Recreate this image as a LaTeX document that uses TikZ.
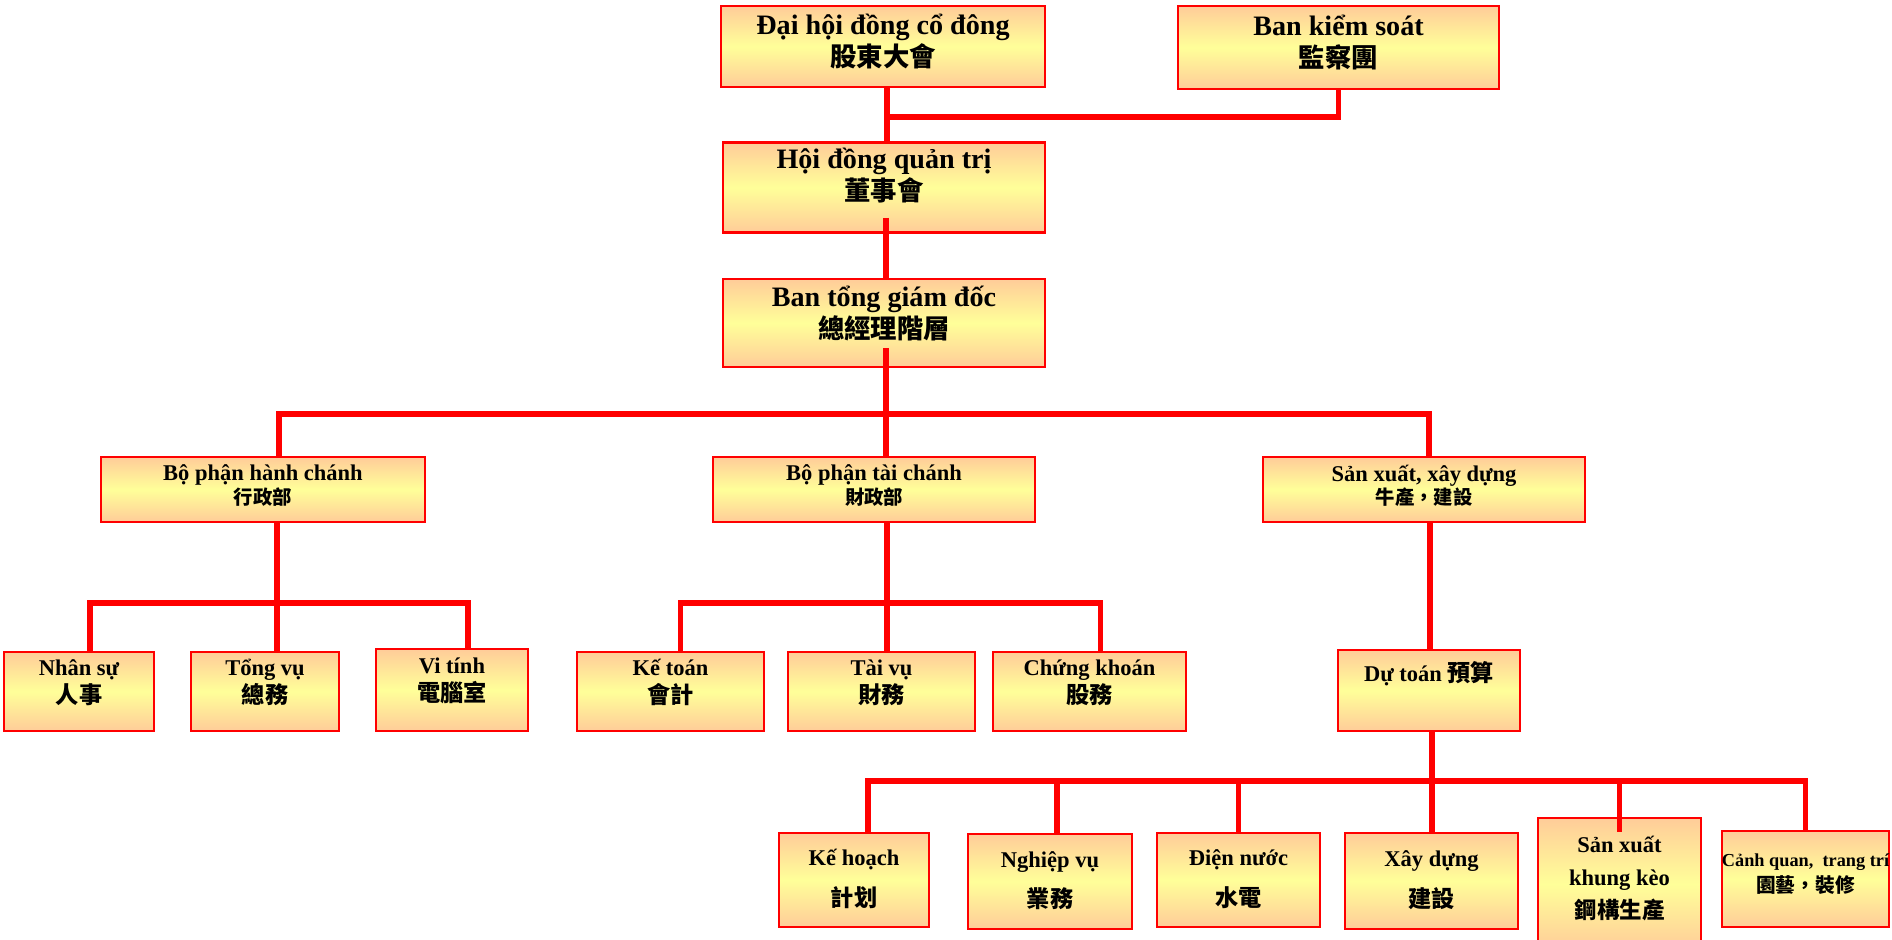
\documentclass[tikz,border=0pt]{standalone}
\usepackage{fontspec}
\setmainfont{Liberation Serif}
\newfontfamily\cjk{Noto Sans CJK TC}
\usetikzlibrary{calc}
\definecolor{boxedge}{HTML}{FFCC99}
\definecolor{boxmid}{HTML}{FFFF99}
\newcommand{\zh}[2]{{\cjk\fontsize{#1}{#1}\selectfont #2}}
\newcommand{\boxtext}[2][0pt]{\raisebox{#1}[0pt][0pt]{\begin{tabular}{@{}c@{}}#2\end{tabular}}}
\tikzset{
  orgbox/.style={draw=red, line width=0.7pt, rectangle, inner sep=0pt, top color=boxedge, bottom color=boxedge, middle color=boxmid},
  topbox/.style={orgbox, font=\bfseries\fontsize{8pt}{9.1pt}\selectfont},
  deptbox/.style={orgbox, minimum height=0.65cm, font=\bfseries\fontsize{6.4pt}{6.1pt}\selectfont},
  unitbox/.style={orgbox, minimum height=0.79cm, font=\bfseries\fontsize{6.4pt}{7.4pt}\selectfont},
  teambox/.style={orgbox, minimum height=0.94cm, font=\bfseries\fontsize{6.4pt}{11.6pt}\selectfont},
  link/.style={draw=red, line width=1.6pt},
}

\begin{document}
\begin{tikzpicture}[x=0.01cm, y=-0.01cm]%
\useasboundingbox (0,0) rectangle (1892,939);%
\node[topbox, minimum width=3.24cm, minimum height=0.81cm] (dhcd) at (883,46.5) {\boxtext[-0.045cm]{Đại hội đồng cổ đông\\\zh{7.5pt}{股東大會}}};%
\node[topbox, minimum width=3.21cm, minimum height=0.83cm] (bks) at (1338.5,47.5) {\boxtext[-0.045cm]{Ban kiểm soát\\\zh{7.5pt}{監察團}}};%
\node[topbox, minimum width=3.22cm, minimum height=0.90cm] (hdqt) at (884,187.5) {\boxtext[0.025cm]{Hội đồng quản trị\\\zh{7.5pt}{董事會}}};%
\node[topbox, minimum width=3.22cm, minimum height=0.88cm] (btgd) at (884,323) {\boxtext[0cm]{Ban tổng giám đốc\\\zh{7.5pt}{總經理階層}}};%
\node[deptbox, minimum width=3.24cm] (hc) at (263,489.5) {\boxtext[-0.035cm]{Bộ phận hành chánh\\\zh{5.5pt}{行政部}}};%
\node[deptbox, minimum width=3.22cm] (tc) at (874,489.5) {\boxtext[-0.035cm]{Bộ phận tài chánh\\\zh{5.5pt}{財政部}}};%
\node[deptbox, minimum width=3.22cm] (sx) at (1424,489.5) {\boxtext[-0.035cm]{Sản xuất, xây dựng\\\zh{5.5pt}{牛產，建設}}};%
\node[unitbox, minimum width=1.50cm] (ns) at (79,691.5) {\boxtext[0.02cm]{Nhân sự\\\zh{6.6pt}{人事}}};%
\node[unitbox, minimum width=1.48cm] (tv) at (265,691.5) {\boxtext[0.02cm]{Tổng vụ\\\zh{6.6pt}{總務}}};%
\node[unitbox, minimum width=1.52cm, minimum height=0.82cm] (vt) at (452,690) {\boxtext[0.02cm]{Vi tính\\\zh{6.6pt}{電腦室}}};%
\node[unitbox, minimum width=1.87cm] (kt) at (670.5,691.5) {\boxtext[0.02cm]{Kế toán\\\zh{6.6pt}{會計}}};%
\node[unitbox, minimum width=1.87cm] (tvu) at (881.5,691.5) {\boxtext[0.02cm]{Tài vụ\\\zh{6.6pt}{財務}}};%
\node[unitbox, minimum width=1.93cm] (ck) at (1089.5,691.5) {\boxtext[0.02cm]{Chứng khoán\\\zh{6.6pt}{股務}}};%
\node[unitbox, minimum width=1.82cm, minimum height=0.81cm] (dt) at (1429,690.5) {\boxtext[0.1cm]{Dự toán \zh{6.6pt}{預算}}};%
\node[teambox, minimum width=1.50cm] (kh) at (854,880) {\boxtext[-0.03cm]{Kế hoạch\\\zh{6.6pt}{計划}}};%
\node[teambox, minimum width=1.64cm, minimum height=0.95cm] (nv) at (1050,881.5) {\boxtext[-0.03cm]{Nghiệp vụ\\\zh{6.6pt}{業務}}};%
\node[teambox, minimum width=1.63cm] (dn) at (1238.5,880) {\boxtext[-0.03cm]{Điện nước\\\zh{6.6pt}{水電}}};%
\node[teambox, minimum width=1.73cm, minimum height=0.96cm] (xd) at (1431.5,881) {\boxtext[-0.03cm]{Xây dựng\\\zh{6.6pt}{建設}}};%
\node[teambox, minimum width=1.63cm, minimum height=1.32cm, font=\bfseries\fontsize{6.4pt}{9.5pt}\selectfont] (sxk) at (1619.5,884) {\boxtext{Sản xuất\\khung kèo\\\zh{6.4pt}{鋼構生產}}};%
\node[teambox, minimum width=1.67cm, minimum height=0.96cm, font=\bfseries\fontsize{5.2pt}{7.4pt}\selectfont] (cq) at (1805.5,879) {\boxtext{Cảnh quan,~ trang trí\\\zh{5.6pt}{園藝，裝修}}};%
\coordinate (j0) at (887,117);%
\coordinate (j1) at (886,414);%
\coordinate (j2) at (277,603);%
\coordinate (j3) at (887,603);%
\coordinate (j4) at (1432,781);%
\draw[link] (dhcd.south -| j0) -- (hdqt.north -| j0);%
\draw[link] (bks.south) |- (j0);%
\draw[link] ([yshift=0.16cm]hdqt.south -| j1) -- (btgd.north -| j1);%
\draw[link] ([yshift=0.2cm]btgd.south -| j1) -- (j1 |- tc.north);%
\draw[link] ([xshift=0.16cm]hc.north) |- (j1) -| ([xshift=0.05cm]sx.north);%
\draw[link] (hc.south -| j2) -- (j2 |- tv.north);%
\draw[link] ([xshift=0.11cm]ns.north) |- (j2) -| ([xshift=0.16cm]vt.north);%
\draw[link] (tc.south -| j3) -- (j3 |- tvu.north);%
\draw[link] ([xshift=0.1cm]kt.north) |- (j3) -| ([xshift=0.11cm]ck.north);%
\draw[link] ([xshift=0.06cm]sx.south) -- ([xshift=0.06cm]sx.south |- dt.north);%
\draw[link] (dt.south -| j4) -- (j4);%
\draw[link] ([xshift=0.14cm]kh.north) |- (j4) -| (cq.north);%
\draw[link] ([xshift=0.07cm]nv.north) -- ([xshift=0.07cm]nv.north |- j4);%
\draw[link] (dn.north) -- (dn.north |- j4);%
\draw[link] (xd.north -| j4) -- (j4);%
\draw[link] ([yshift=-0.15cm]sxk.north) -- (sxk.north |- j4);%
\end{tikzpicture}
\end{document}
